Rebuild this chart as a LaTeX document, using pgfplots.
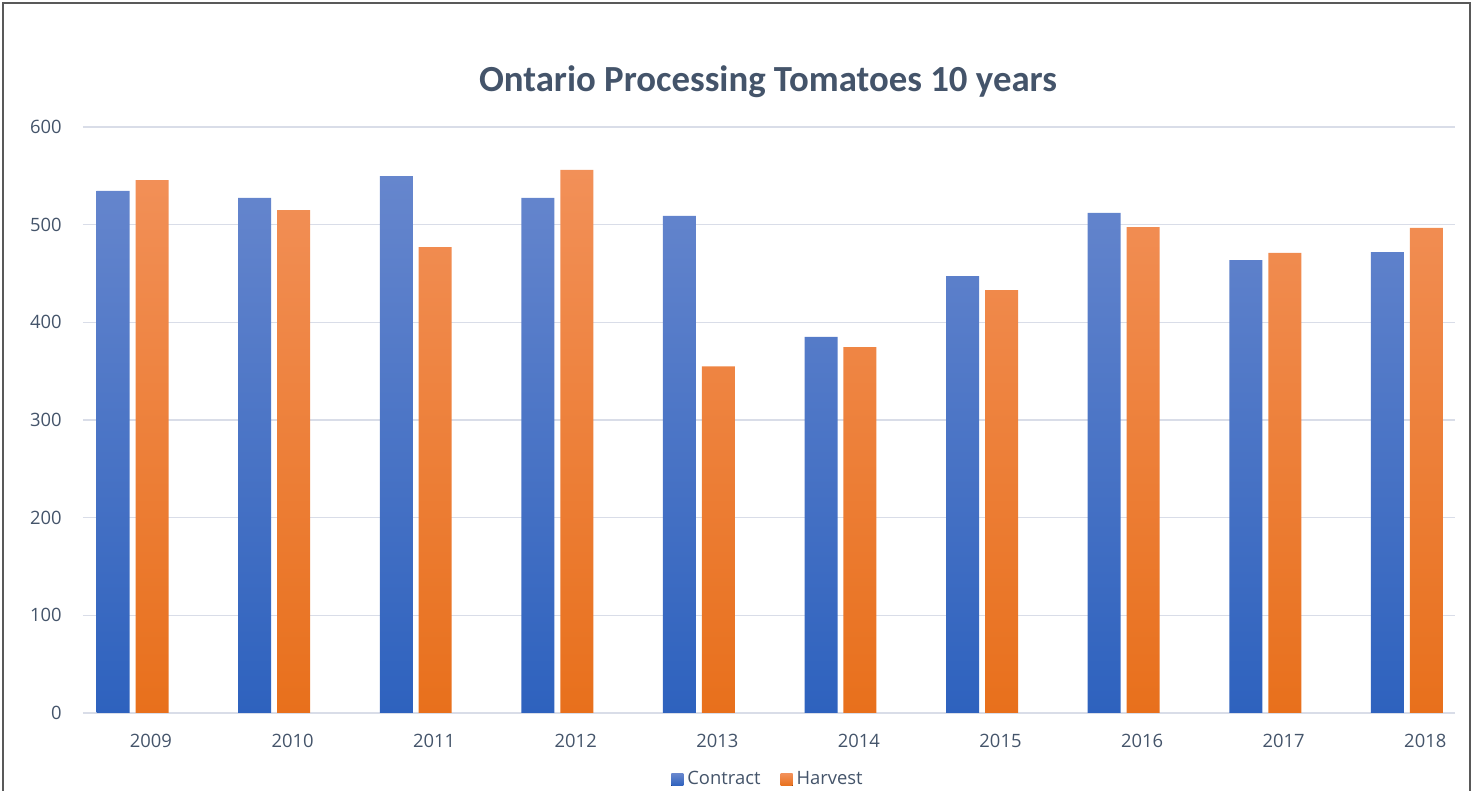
\documentclass[border=0pt]{standalone}
\usepackage{pgfplots}
\pgfplotsset{compat=1.18}
\usepackage{fontspec}
\setmainfont{Carlito}
\newfontfamily\segoe{Open Sans}
\definecolor{txt}{HTML}{44546A}
\definecolor{gridc}{HTML}{D9DDE8}
\definecolor{blueT}{HTML}{6686CD}
\definecolor{blueB}{HTML}{2E62BE}
\definecolor{orT}{HTML}{F29058}
\definecolor{orB}{HTML}{E8701C}
\begin{document}
\begin{tikzpicture}[x=0.5pt,y=0.5pt]
\useasboundingbox (0,0) rectangle (1473,791);
\draw[black!65, line width=0.6pt] (3,-10) -- (3,788) -- (1470,788) -- (1470,-10);
\node[font=\fontsize{18.4}{21}\selectfont\bfseries, text=txt] at (768,709) {Ontario Processing Tomatoes 10 years};
\begin{axis}[
  at={(41.5pt,39pt)}, anchor=south west,
  scale only axis, width=686pt, height=293pt,
  xmin=-0.35, xmax=9.34, ymin=0, ymax=600,
  ytick={0,100,...,600},
  xtick={0,...,9},
  xticklabels={2009,2010,2011,2012,2013,2014,2015,2016,2017,2018},
  ymajorgrids, grid style={draw=gridc, line width=0.6pt},
  axis x line*=bottom, axis y line*=left,
  x axis line style={draw=gridc, line width=0.8pt, -},
  y axis line style={draw=none},
  major tick length=0pt,
  tick label style={font=\segoe\fontsize{9.2}{11}\selectfont, text=txt},
  /pgf/number format/assume math mode=true,
  yticklabel style={anchor=east, inner sep=0pt, xshift=-10.5pt},
  xticklabel style={anchor=center, inner sep=0pt, yshift=-14pt, xshift=9.2pt},
  legend style={draw=none, at={(0.5,-0.114)}, anchor=center, legend columns=2,
    font=\segoe\fontsize{9.2}{11}\selectfont, text=txt,
    /tikz/every even column/.append style={column sep=8pt}},
  legend image code/.code={\fill[#1] (0pt,-3pt) rectangle (6pt,3pt);},
]
\addplot[ybar, bar width=0.233, bar shift=0pt, draw=none, top color=blueT, bottom color=blueB, shading=axis]
coordinates {(-0.1376,534.5) (0.8624,527.3) (1.8624,549.8) (2.8624,527.3) (3.8624,508.9) (4.8624,385) (5.8624,447.4) (6.8624,512) (7.8624,463.8) (8.8624,472)};
\addlegendentry{Contract}
\addplot[ybar, bar width=0.233, bar shift=0pt, draw=none, top color=orT, bottom color=orB, shading=axis]
coordinates {(0.1376,545.7) (1.1376,515) (2.1376,477) (3.1376,556) (4.1376,355) (5.1376,374.7) (6.1376,433) (7.1376,497.6) (8.1376,471) (9.1376,496.6)};
\addlegendentry{Harvest}
\end{axis}
\end{tikzpicture}
\end{document}
